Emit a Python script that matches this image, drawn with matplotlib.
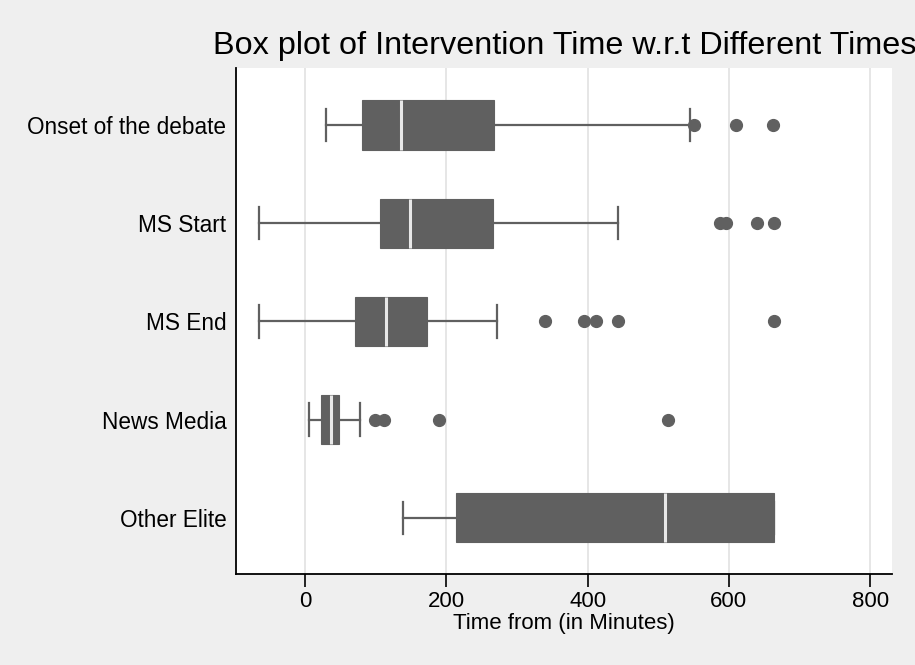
import matplotlib.pyplot as plt

# Intervention time summaries (minutes) per reference event
groups = ["Onset of the debate", "MS Start", "MS End", "News Media", "Other Elite"]
whisker_low = [30, -66, -66, 6, 139]
q1 = [81, 106, 71, 22, 214]
median = [135, 148, 114, 36, 510]
q3 = [268, 266, 173, 48, 664]
whisker_high = [545, 443, 271, 78, 664]
outliers = [
    [550, 610, 663],
    [588, 596, 640, 664],
    [339, 395, 412, 443, 664],
    [99, 111, 189, 514],
    [],
]

box_color = "#606060"
bg_color = "#efefef"

plt.rcParams["font.family"] = ["Liberation Sans", "DejaVu Sans"]

fig = plt.figure(figsize=(9.15, 6.65), dpi=100, facecolor=bg_color)
ax = fig.add_axes([236 / 915, 1 - 574.3 / 665, (892 - 236) / 915, (574.3 - 67.7) / 665])
ax.set_facecolor("white")

stats = []
for i, name in enumerate(groups):
    stats.append(dict(label=name, whislo=whisker_low[i], q1=q1[i], med=median[i],
                      q3=q3[i], whishi=whisker_high[i], fliers=outliers[i]))

positions = list(range(len(groups), 0, -1))
ax.bxp(stats, positions=positions, vert=False, widths=0.5, capwidths=0.33,
       patch_artist=True, showfliers=True,
       boxprops=dict(facecolor=box_color, edgecolor=box_color, linewidth=0.8),
       whiskerprops=dict(color=box_color, linewidth=1.6),
       capprops=dict(color=box_color, linewidth=1.6),
       medianprops=dict(color="#e8e8e8", linewidth=2.2),
       flierprops=dict(marker="o", markerfacecolor=box_color,
                       markeredgecolor=box_color, markersize=8.5))

ax.set_xlim(-98, 831)
ax.set_ylim(0.425, 5.583)
ax.set_xticks([0, 200, 400, 600, 800])
ax.xaxis.grid(True, color="#e4e4e4", linewidth=1.3)
ax.set_axisbelow(True)

for side in ("top", "right"):
    ax.spines[side].set_visible(False)
for side in ("left", "bottom"):
    ax.spines[side].set_color("black")
    ax.spines[side].set_linewidth(1.3)

ax.tick_params(axis="x", length=9, width=1.2, labelsize=16, pad=3)
ax.tick_params(axis="y", length=0, labelsize=16.3, pad=7)
ax.set_xlabel("Time from (in Minutes)", fontsize=16, labelpad=0.5)

fig.text(213 / 915, 1 - 54 / 665, "Box plot of Intervention Time w.r.t Different Times",
         fontsize=23.3, ha="left", va="baseline")

fig.savefig("out.png", dpi=100, facecolor=bg_color)
